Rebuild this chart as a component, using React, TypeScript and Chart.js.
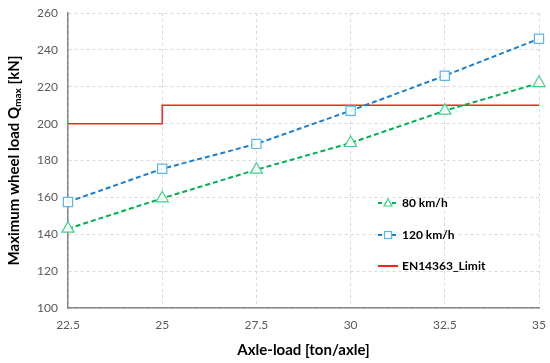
import React, { useEffect, useRef } from "react";
import { Chart, registerables } from "chart.js";

Chart.register(...registerables);

const axleLoads = [22.5, 25, 27.5, 30, 32.5, 35];
const speed80 = [143, 159.5, 175, 189.5, 207, 222];
const speed120 = [157.5, 175.5, 189, 207, 226, 246];
const limitX = [22.5, 25, 25, 35];
const limitY = [200, 200, 210, 210];
const yTicks = [100, 120, 140, 160, 180, 200, 220, 240, 260];
const xTicks = [22.5, 25, 27.5, 30, 32.5, 35];
const seriesLabels = ["80 km/h", "120 km/h", "EN14363_Limit"];

const FONT = "Lato, 'Open Sans', sans-serif";

const overlayPlugin = {
  id: "overlay",
  afterDraw(chart: any) {
    const ctx = chart.ctx;
    const area = chart.chartArea;
    ctx.save();
    // Y axis title with subscript
    ctx.translate(14, (area.top + area.bottom) / 2);
    ctx.rotate(-Math.PI / 2);
    ctx.fillStyle = "#000";
    ctx.textBaseline = "middle";
    const p1 = "Maximum wheel load Q";
    const sub = "max";
    const p2 = " [kN]";
    ctx.font = `bold 15px ${FONT}`;
    const w1 = ctx.measureText(p1).width;
    const w3 = ctx.measureText(p2).width;
    ctx.font = `bold 10px ${FONT}`;
    const w2 = ctx.measureText(sub).width;
    const total = w1 + w2 + w3;
    let x = -total / 2;
    ctx.font = `bold 15px ${FONT}`;
    ctx.textAlign = "left";
    ctx.fillText(p1, x, 0);
    x += w1;
    ctx.font = `bold 10px ${FONT}`;
    ctx.fillText(sub, x, 4);
    x += w2;
    ctx.font = `bold 15px ${FONT}`;
    ctx.fillText(p2, x, 0);
    ctx.restore();

    // Legend
    const items = [
      { y: 203, color: "#00b050", mcolor: "#3fd08a", dash: [4, 3], marker: "tri" },
      { y: 235, color: "#1a7fd1", mcolor: "#5ab7ea", dash: [4, 3], marker: "sq" },
      { y: 266, color: "#ff2020", mcolor: "#ff2020", dash: [], marker: "" },
    ];
    items.forEach((it, i) => {
      ctx.save();
      ctx.strokeStyle = it.color;
      ctx.lineWidth = 2;
      ctx.setLineDash(it.dash);
      ctx.beginPath();
      ctx.moveTo(378, it.y);
      ctx.lineTo(398, it.y);
      ctx.stroke();
      ctx.setLineDash([]);
      ctx.lineWidth = 1.2;
      ctx.strokeStyle = it.mcolor;
      ctx.fillStyle = "#fff";
      if (it.marker === "tri") {
        ctx.beginPath();
        ctx.moveTo(388, it.y - 4);
        ctx.lineTo(392, it.y + 3);
        ctx.lineTo(384, it.y + 3);
        ctx.closePath();
        ctx.fill();
        ctx.stroke();
      } else if (it.marker === "sq") {
        ctx.fillRect(384.5, it.y - 3.5, 7, 7);
        ctx.strokeRect(384.5, it.y - 3.5, 7, 7);
      }
      ctx.fillStyle = "#000";
      ctx.font = `bold 12px ${FONT}`;
      ctx.textAlign = "left";
      ctx.textBaseline = "middle";
      ctx.fillText(seriesLabels[i], 402, it.y);
      ctx.restore();
    });
  },
};

export default function App() {
  const ref = useRef<HTMLCanvasElement>(null);
  useEffect(() => {
    if (!ref.current) return;
    const chart = new Chart(ref.current, {
      type: "line",
      data: {
        datasets: [
          {
            label: seriesLabels[0],
            data: axleLoads.map((x, i) => ({ x, y: speed80[i] })),
            borderColor: "#00b050",
            borderWidth: 2,
            borderDash: [5, 3],
            pointStyle: "triangle",
            pointRadius: 7,
            pointBorderColor: "#3fd08a",
            pointBackgroundColor: "rgba(255,255,255,0.9)",
            pointBorderWidth: 1.2,
            fill: false,
            clip: false,
          },
          {
            label: seriesLabels[1],
            data: axleLoads.map((x, i) => ({ x, y: speed120[i] })),
            borderColor: "#1a7fd1",
            borderWidth: 2,
            borderDash: [5, 3],
            pointStyle: "rect",
            pointRadius: 6.5,
            pointBorderColor: "#5ab7ea",
            pointBackgroundColor: "rgba(255,255,255,0.9)",
            pointBorderWidth: 1.2,
            fill: false,
            clip: false,
          },
          {
            label: seriesLabels[2],
            data: limitX.map((x, i) => ({ x, y: limitY[i] })),
            borderColor: "#ff2020",
            borderWidth: 1.5,
            pointRadius: 0,
            fill: false,
          },
        ],
      },
      options: {
        animation: false,
        responsive: false,
        maintainAspectRatio: false,
        layout: { padding: { top: 13, right: 11, left: 0, bottom: 0 } },
        plugins: { legend: { display: false }, tooltip: { enabled: false } },
        scales: {
          x: {
            type: "linear",
            min: 22.5,
            max: 35,
            afterBuildTicks: (s: any) => {
              s.ticks = xTicks.map((v) => ({ value: v }));
            },
            afterFit: (s: any) => {
              s.height = 55;
              s.paddingRight = 0;
              s.paddingLeft = 0;
            },
            ticks: {
              color: "#595959",
              font: { family: FONT, size: 12 },
              padding: 10,
              maxRotation: 0,
              callback: (v: any) => String(v),
            },
            grid: { color: "#d9d9d9", drawTicks: false, lineWidth: 1 },
            border: { color: "#868686", width: 1.5, dash: [3, 3] },
            title: {
              display: true,
              text: "Axle-load [ton/axle]",
              color: "#000",
              font: { family: FONT, size: 15, weight: "bold" },
              padding: { top: 6 },
            },
          },
          y: {
            min: 100,
            max: 260,
            afterBuildTicks: (s: any) => {
              s.ticks = yTicks.map((v) => ({ value: v }));
            },
            afterFit: (s: any) => {
              s.width = 68;
              s.paddingTop = 0;
              s.paddingBottom = 0;
            },
            ticks: {
              color: "#595959",
              font: { family: FONT, size: 12 },
              padding: 10,
            },
            grid: { color: "#d9d9d9", drawTicks: false, lineWidth: 1 },
            border: { color: "#868686", width: 1.5, dash: [3, 3] },
          },
        },
      },
      plugins: [overlayPlugin],
    } as any);
    return () => chart.destroy();
  }, []);
  return (
    <div style={{ position: "absolute", left: 0, top: 0, width: 550, height: 363, background: "#fff" }}>
      <canvas ref={ref} width={550} height={363} style={{ width: 550, height: 363 }} />
    </div>
  );
}
